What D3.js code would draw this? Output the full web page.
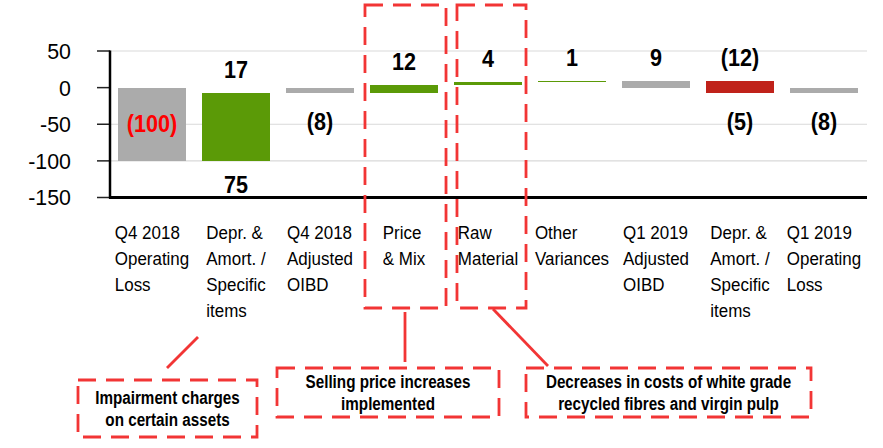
<!DOCTYPE html>
<html>
<head>
<meta charset="utf-8">
<script src="https://cdn.jsdelivr.net/npm/d3@7"></script>
<style>
  html, body { margin: 0; padding: 0; background: #fff; }
  svg { display: block; }
</style>
</head>
<body>
<svg id="chart" width="883" height="448"></svg>
<script>
// Bridge from Q4 2018 to Q1 2019 operating result (SEK m)
const categories = [
  ["Q4 2018", "Operating", "Loss"],
  ["Depr. &", "Amort. /", "Specific", "items"],
  ["Q4 2018", "Adjusted", "OIBD"],
  ["Price", "& Mix"],
  ["Raw", "Material"],
  ["Other", "Variances"],
  ["Q1 2019", "Adjusted", "OIBD"],
  ["Depr. &", "Amort. /", "Specific", "items"],
  ["Q1 2019", "Operating", "Loss"]
];
// "total" bars start at zero, "step" bars start where the previous bar ended
const barKinds = ["total", "step", "total", "step", "step", "step", "total", "step", "total"];
// one or more stacked segments per bar
const barValues = [[-100], [75, 17], [-8], [12], [4], [1], [9], [-12, -5], [-8]];
// where each segment's value label sits
const labelSides = [["inside"], ["below", "above"], ["below"], ["above"], ["above"], ["above"], ["above"], ["above", "below"], ["below"]];
const yTicks = [50, 0, -50, -100, -150];
const callouts = [
  ["Impairment charges", "on certain assets"],
  ["Selling price increases", "implemented"],
  ["Decreases in costs of white grade", "recycled fibres and virgin pulp"]
];

const COLORS = {
  total: "#ababab",
  up: "#5b9a07",
  down: "#c0221a",
  neg: "#ff0000",
  note: "#f23535",
  grid: "#d9d9d9"
};
const FONT = "'Liberation Sans', Arial, Helvetica, sans-serif";

const svg = d3.select("#chart");
const plot = { left: 110, right: 866, top: 51, bottom: 197.5 };

const x = d3.scaleBand()
  .domain(d3.range(categories.length))
  .range([plot.left, plot.right])
  .paddingInner(0.19)
  .paddingOuter(0.095);

const y = d3.scaleLinear().domain([-150, 50]).range([plot.bottom, plot.top]);

// text helper: horizontally condensed glyphs
function label(g, str, px, py, opt) {
  const t = g.append("text")
    .attr("transform", `translate(${px},${py}) scale(${opt.sx || 1},1)`)
    .attr("font-family", FONT)
    .attr("font-size", opt.size)
    .attr("font-weight", opt.weight || "normal")
    .attr("fill", opt.fill || "#000")
    .attr("text-anchor", opt.anchor || "middle")
    .text(str);
  if (opt.middle) t.attr("dy", "0.35em");
  return t;
}

// gridlines (zero line is carried by the bars)
svg.append("g")
  .selectAll("line")
  .data(yTicks.filter(d => d !== 0 && d !== -150))
  .join("line")
  .attr("x1", plot.left).attr("x2", plot.right + 1)
  .attr("y1", d => y(d)).attr("y2", d => y(d))
  .attr("stroke", COLORS.grid).attr("stroke-width", 1.2);

// build waterfall segments
const segments = [];
let running = 0;
barValues.forEach((vals, i) => {
  let start = barKinds[i] === "total" ? 0 : running;
  vals.forEach((v, j) => {
    const end = start + v;
    segments.push({ i, j, v, y0: start, y1: end, kind: barKinds[i], side: labelSides[i][j] });
    start = end;
  });
  running = start;
});

const barG = svg.append("g").attr("shape-rendering", "crispEdges");
barG.selectAll("rect")
  .data(segments)
  .join("rect")
  .attr("x", d => x(d.i))
  .attr("width", x.bandwidth())
  .attr("y", d => y(Math.max(d.y0, d.y1)))
  .attr("height", d => Math.max(1, Math.abs(y(d.y0) - y(d.y1))))
  .attr("fill", d => d.kind === "total" ? COLORS.total : (d.v >= 0 ? COLORS.up : COLORS.down));

// value labels
const fmt = v => v < 0 ? `(${Math.abs(v)})` : `${v}`;
const valG = svg.append("g");
barValues.forEach((vals, i) => {
  const segs = segments.filter(s => s.i === i);
  const top = d3.max(segs, s => Math.max(s.y0, s.y1));
  const bot = d3.min(segs, s => Math.min(s.y0, s.y1));
  const cx = x(i) + x.bandwidth() / 2;
  segs.forEach(s => {
    let py, fill = "#000";
    if (s.side === "above") py = y(top) - 15;
    else if (s.side === "below") py = Math.min(y(bot) + 37, plot.bottom - 5);
    else { py = (y(s.y0) + y(s.y1)) / 2 + 8; fill = COLORS.neg; }
    label(valG, fmt(s.v), cx, py, { size: 23.5, weight: "bold", sx: 0.92, fill });
  });
});

// axes
const axG = svg.append("g");
axG.selectAll("line.tick")
  .data(yTicks)
  .join("line")
  .attr("class", "tick")
  .attr("x1", plot.left - 13).attr("x2", plot.left)
  .attr("y1", d => y(d)).attr("y2", d => y(d))
  .attr("stroke", "#222").attr("stroke-width", 1.5);
yTicks.forEach(t => {
  label(axG, d3.format("d")(t).replace("\u2212", "-"), 71, y(t), { size: 22.5, sx: 0.95, anchor: "end", middle: true });
});
axG.append("line")
  .attr("x1", plot.left).attr("x2", plot.left)
  .attr("y1", y(50) - 0.5).attr("y2", plot.bottom + 1)
  .attr("stroke", "#000").attr("stroke-width", 2.5);
axG.append("line")
  .attr("x1", plot.left - 1).attr("x2", plot.right + 1)
  .attr("y1", plot.bottom).attr("y2", plot.bottom)
  .attr("stroke", "#000").attr("stroke-width", 3);

// category labels: left-aligned lines, block centred under each bar
const catG = svg.append("g");
const CAT_SX = 0.97;
categories.forEach((lines, i) => {
  const cx = x(i) + x.bandwidth() / 2;
  const nodes = lines.map((ln, k) =>
    label(catG, ln, 0, 239 + k * 26, { size: 17.5, sx: CAT_SX, anchor: "start" }));
  const w = d3.max(nodes, n => n.node().getComputedTextLength()) * CAT_SX;
  const left = cx - w / 2;
  nodes.forEach((n, k) => n.attr("transform", `translate(${left},${239 + k * 26}) scale(${CAT_SX},1)`));
});

// callout boxes and leaders
const noteG = svg.append("g");
const dashed = { stroke: COLORS.note, "stroke-width": 2.8, "stroke-dasharray": "18,10", fill: "none" };
function box(x0, y0, x1, y1) {
  const r = noteG.append("rect")
    .attr("x", x0).attr("y", y0).attr("width", x1 - x0).attr("height", y1 - y0);
  Object.entries(dashed).forEach(([k, v]) => r.attr(k, v));
}
function leader(x0, y0, x1, y1) {
  noteG.append("line")
    .attr("x1", x0).attr("y1", y0).attr("x2", x1).attr("y2", y1)
    .attr("stroke", COLORS.note).attr("stroke-width", 2.8);
}

// highlighted columns
box(x(3) - 5, 5, x(3) + x.bandwidth() + 8, 308);
box(x(4) + 3, 5, x(4) + x.bandwidth() + 4, 308);

const noteBoxes = [
  [78, 380, 257, 437],
  [277, 368, 499, 417],
  [526, 368, 811, 417]
];
noteBoxes.forEach((b, k) => {
  box(b[0], b[1], b[2], b[3]);
  const cx = (b[0] + b[2]) / 2;
  const cy = (b[1] + b[3]) / 2;
  const lh = 21.5;
  const b1 = cy - (lh - 12.5) / 2;
  callouts[k].forEach((ln, j) =>
    label(noteG, ln, cx, b1 + j * lh, { size: 17.5, weight: "bold", sx: 0.87 }));
});

leader(198, 337, 167, 368);
leader(x(3) + x.bandwidth() / 2 + 1, 312, x(3) + x.bandwidth() / 2 + 1, 362);
leader(493, 309, 548, 366);
</script>
</body>
</html>
